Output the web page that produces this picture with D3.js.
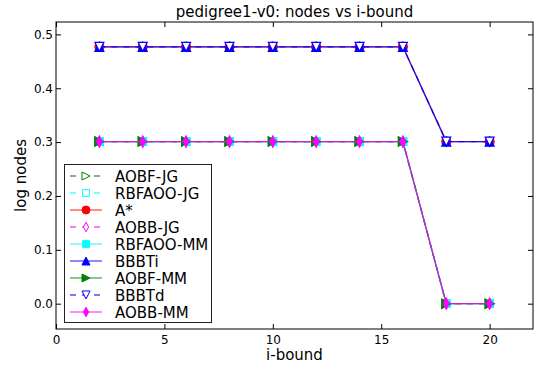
<!DOCTYPE html>
<html>
<head>
<meta charset="utf-8">
<script src="https://cdn.jsdelivr.net/npm/d3@7"></script>
<style>
  html, body { margin: 0; padding: 0; background: #fff; }
  svg { display: block; font-family: "DejaVu Sans", sans-serif; }
</style>
</head>
<body>
<svg id="chart" width="534" height="372"></svg>
<script>
// i-bound values on the x axis
const iBound = [2, 4, 6, 8, 10, 12, 14, 16, 18, 20];

// log10 of node counts per solver
const aobfJG   = [0.301, 0.301, 0.301, 0.301, 0.301, 0.301, 0.301, 0.301, 0.000, 0.000];
const rbfaooJG = [0.301, 0.301, 0.301, 0.301, 0.301, 0.301, 0.301, 0.301, 0.000, 0.000];
const aStar    = [0.477, 0.477, 0.477, 0.477, 0.477, 0.477, 0.477, 0.477, 0.301, 0.301];
const aobbJG   = [0.301, 0.301, 0.301, 0.301, 0.301, 0.301, 0.301, 0.301, 0.000, 0.000];
const rbfaooMM = [0.301, 0.301, 0.301, 0.301, 0.301, 0.301, 0.301, 0.301, 0.000, 0.000];
const bbbti    = [0.477, 0.477, 0.477, 0.477, 0.477, 0.477, 0.477, 0.477, 0.301, 0.301];
const aobfMM   = [0.301, 0.301, 0.301, 0.301, 0.301, 0.301, 0.301, 0.301, 0.000, 0.000];
const bbbtd    = [0.477, 0.477, 0.477, 0.477, 0.477, 0.477, 0.477, 0.477, 0.301, 0.301];
const aobbMM   = [0.301, 0.301, 0.301, 0.301, 0.301, 0.301, 0.301, 0.301, 0.000, 0.000];

const seriesNames = ["AOBF-JG", "RBFAOO-JG", "A*", "AOBB-JG", "RBFAOO-MM", "BBBTi", "AOBF-MM", "BBBTd", "AOBB-MM"];
const seriesValues = [aobfJG, rbfaooJG, aStar, aobbJG, rbfaooMM, bbbti, aobfMM, bbbtd, aobbMM];

const xTicks = [0, 5, 10, 15, 20];
const yTicks = [0.0, 0.1, 0.2, 0.3, 0.4, 0.5];

// styling per series
const styles = [
  { color: "#008000", dashed: true,  marker: "tri-right", filled: false },
  { color: "#00ffff", dashed: true,  marker: "square",    filled: false },
  { color: "#ff0000", dashed: false, marker: "circle",    filled: true  },
  { color: "#ff00ff", dashed: true,  marker: "diamond",   filled: false },
  { color: "#00ffff", dashed: false, marker: "square",    filled: true  },
  { color: "#0000ff", dashed: false, marker: "tri-up",    filled: true  },
  { color: "#008000", dashed: false, marker: "tri-right", filled: true  },
  { color: "#0000ff", dashed: true,  marker: "tri-down",  filled: false },
  { color: "#ff00ff", dashed: false, marker: "diamond",   filled: true  }
];

const svg = d3.select("#chart");
const plotLeft = 56, plotRight = 533, plotTop = 22, plotBottom = 329;

const x = d3.scaleLinear().domain([0, 22]).range([plotLeft, plotRight]);
const y = d3.scaleLinear().domain([-0.047, 0.523]).range([plotBottom, plotTop]);

function markerPath(type, s) {
  const h = s / 2;
  switch (type) {
    case "circle":
      return `M${h},0A${h},${h} 0 1,1 ${-h},0A${h},${h} 0 1,1 ${h},0Z`;
    case "square": {
      const q = h * 0.85;
      return `M${-q},${-q}L${q},${-q}L${q},${q}L${-q},${q}Z`;
    }
    case "tri-right":
      return `M${h},0L${-h},${-h}L${-h},${h}Z`;
    case "tri-up":
      return `M0,${-h}L${h},${h}L${-h},${h}Z`;
    case "tri-down":
      return `M0,${h}L${h},${-h}L${-h},${-h}Z`;
    case "diamond": {
      const w = h * 0.65, d = h * 1.2;
      return `M0,${-d}L${w},0L0,${d}L${-w},0Z`;
    }
  }
  return "";
}

// plot area background
svg.append("rect")
  .attr("x", plotLeft).attr("y", plotTop)
  .attr("width", plotRight - plotLeft).attr("height", plotBottom - plotTop)
  .attr("fill", "#fff");

const plot = svg.append("g");
const line = d3.line().x((d, i) => x(iBound[i])).y(d => y(d));

seriesValues.forEach((vals, k) => {
  const st = styles[k];
  const g = plot.append("g");
  g.append("path")
    .datum(vals)
    .attr("d", line)
    .attr("fill", "none")
    .attr("stroke", st.color)
    .attr("stroke-opacity", 0.8)
    .attr("stroke-width", 1.3)
    .attr("stroke-dasharray", st.dashed ? "6,6" : null);
  g.selectAll("path.mk")
    .data(vals)
    .join("path")
    .attr("class", "mk")
    .attr("transform", (d, i) => `translate(${x(iBound[i])},${y(d)})`)
    .attr("d", markerPath(st.marker, 9))
    .attr("fill", st.filled ? st.color : "#fff")
    .attr("stroke", st.color)
    .attr("stroke-width", 1.2);
});

// axes with inward ticks on all four sides
const axisStyle = sel => {
  sel.select(".domain").remove();
  sel.selectAll("line").attr("stroke", "#000");
  sel.selectAll("text").attr("fill", "#000").style("font-size", "12px").style("font-family", "DejaVu Sans, sans-serif");
};

svg.append("g").attr("transform", `translate(0,${plotBottom})`)
  .call(d3.axisBottom(x).tickValues(xTicks).tickFormat(d3.format("d")).tickSizeInner(-5).tickSizeOuter(0).tickPadding(6))
  .call(axisStyle);
svg.append("g").attr("transform", `translate(0,${plotTop})`)
  .call(d3.axisTop(x).tickValues(xTicks).tickFormat("").tickSizeInner(-5).tickSizeOuter(0))
  .call(axisStyle);
svg.append("g").attr("transform", `translate(${plotLeft},0)`)
  .call(d3.axisLeft(y).tickValues(yTicks).tickFormat(d3.format(".1f")).tickSizeInner(-5).tickSizeOuter(0).tickPadding(3))
  .call(axisStyle);
svg.append("g").attr("transform", `translate(${plotRight},0)`)
  .call(d3.axisRight(y).tickValues(yTicks).tickFormat("").tickSizeInner(-5).tickSizeOuter(0))
  .call(axisStyle);

svg.append("rect")
  .attr("x", plotLeft).attr("y", plotTop)
  .attr("width", plotRight - plotLeft).attr("height", plotBottom - plotTop)
  .attr("fill", "none").attr("stroke", "#000").attr("stroke-width", 1);

// title and axis labels
svg.append("text")
  .attr("x", (plotLeft + plotRight) / 2).attr("y", 17)
  .attr("text-anchor", "middle").style("font-size", "15px")
  .text("pedigree1-v0: nodes vs i-bound");
svg.append("text")
  .attr("x", (plotLeft + plotRight) / 2).attr("y", 360)
  .attr("text-anchor", "middle").style("font-size", "15px")
  .text("i-bound");
svg.append("text")
  .attr("transform", `translate(26,${(plotTop + plotBottom) / 2}) rotate(-90)`)
  .attr("text-anchor", "middle").style("font-size", "15px")
  .text("log nodes");

// legend
const lg = svg.append("g");
lg.append("rect")
  .attr("x", 64.5).attr("y", 164.5)
  .attr("width", 147).attr("height", 158)
  .attr("fill", "#fff").attr("stroke", "#222").attr("stroke-width", 1);

seriesNames.forEach((name, k) => {
  const st = styles[k];
  const cy = 176 + k * 17;
  lg.append("line")
    .attr("x1", 70).attr("x2", 102).attr("y1", cy).attr("y2", cy)
    .attr("stroke", st.color).attr("stroke-opacity", 0.7).attr("stroke-width", 1.3)
    .attr("stroke-dasharray", st.dashed ? "6,6" : null);
  lg.append("path")
    .attr("transform", `translate(86,${cy})`)
    .attr("d", markerPath(st.marker, 8))
    .attr("fill", st.filled ? st.color : "#fff")
    .attr("stroke", st.color).attr("stroke-width", 1);
  lg.append("text")
    .attr("x", 115).attr("y", cy + 5.5)
    .style("font-size", "15px")
    .text(name);
});
</script>
</body>
</html>
